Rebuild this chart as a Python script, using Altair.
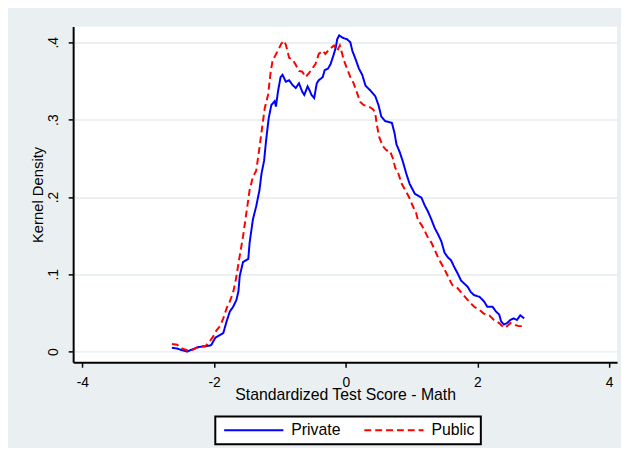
import altair as alt
import pandas as pd

# Private (solid blue) kernel density: x values and densities
private_x = [-2.64, -2.56, -2.49, -2.41, -2.33, -2.23, -2.13, -2.06, -2.04, -1.98, -1.92, -1.86,
             -1.81, -1.76, -1.71, -1.66, -1.63, -1.61, -1.56, -1.48, -1.46, -1.41, -1.36, -1.31,
             -1.28, -1.24, -1.21, -1.17, -1.13, -1.08, -1.06, -1.03, -0.99, -0.96, -0.91, -0.86,
             -0.81, -0.76, -0.71, -0.66, -0.63, -0.58, -0.55, -0.52, -0.48, -0.44, -0.41, -0.35,
             -0.32, -0.27, -0.23, -0.18, -0.15, -0.13, -0.10, -0.05, 0.02, 0.07, 0.10, 0.15,
             0.20, 0.25, 0.30, 0.37, 0.45, 0.50, 0.54, 0.60, 0.70, 0.74, 0.77, 0.82,
             0.87, 0.92, 0.97, 1.05, 1.15, 1.20, 1.25, 1.30, 1.35, 1.40, 1.45, 1.50,
             1.55, 1.60, 1.65, 1.70, 1.75, 1.80, 1.85, 1.90, 1.95, 2.03, 2.10, 2.15,
             2.23, 2.28, 2.33, 2.36, 2.40, 2.45, 2.50, 2.55, 2.60, 2.65, 2.71]
private_y = [0.005, 0.004, 0.002, 0.000, 0.003, 0.006, 0.007, 0.008, 0.009, 0.018, 0.021, 0.024,
             0.039, 0.052, 0.058, 0.067, 0.078, 0.098, 0.116, 0.120, 0.141, 0.171, 0.188, 0.209,
             0.230, 0.247, 0.273, 0.302, 0.319, 0.324, 0.317, 0.336, 0.355, 0.358, 0.349, 0.351,
             0.345, 0.341, 0.347, 0.336, 0.332, 0.343, 0.338, 0.332, 0.328, 0.347, 0.351, 0.355,
             0.364, 0.366, 0.372, 0.385, 0.394, 0.404, 0.409, 0.406, 0.404, 0.400, 0.389, 0.378,
             0.366, 0.358, 0.344, 0.338, 0.330, 0.318, 0.304, 0.298, 0.296, 0.283, 0.268, 0.258,
             0.245, 0.230, 0.217, 0.204, 0.199, 0.189, 0.181, 0.171, 0.160, 0.152, 0.143, 0.128,
             0.122, 0.118, 0.109, 0.101, 0.092, 0.088, 0.084, 0.077, 0.073, 0.071, 0.065, 0.058,
             0.058, 0.052, 0.048, 0.039, 0.035, 0.037, 0.041, 0.043, 0.041, 0.047, 0.043]

# Public (dashed red) kernel density
public_x = [-2.64, -2.56, -2.49, -2.38, -2.31, -2.23, -2.13, -2.06, -2.01, -1.96, -1.91, -1.86,
            -1.81, -1.76, -1.71, -1.68, -1.66, -1.61, -1.56, -1.51, -1.46, -1.41, -1.36, -1.31,
            -1.27, -1.23, -1.18, -1.14, -1.11, -1.07, -1.02, -0.98, -0.94, -0.91, -0.86, -0.81,
            -0.76, -0.71, -0.66, -0.61, -0.56, -0.51, -0.46, -0.41, -0.35, -0.31, -0.25, -0.18,
            -0.13, -0.09, -0.06, -0.03, 0.02, 0.07, 0.12, 0.17, 0.22, 0.27, 0.37, 0.42,
            0.45, 0.47, 0.51, 0.56, 0.62, 0.67, 0.72, 0.75, 0.80, 0.85, 0.89, 0.96,
            1.02, 1.07, 1.10, 1.15, 1.20, 1.25, 1.30, 1.35, 1.40, 1.47, 1.52, 1.57,
            1.62, 1.70, 1.77, 1.83, 1.87, 1.95, 2.03, 2.10, 2.18, 2.25, 2.33, 2.40,
            2.45, 2.50, 2.55, 2.63, 2.70]
public_y = [0.010, 0.009, 0.004, 0.001, 0.003, 0.007, 0.007, 0.014, 0.020, 0.028, 0.033, 0.043,
            0.056, 0.065, 0.077, 0.088, 0.098, 0.124, 0.149, 0.179, 0.209, 0.226, 0.234, 0.264,
            0.290, 0.315, 0.332, 0.362, 0.377, 0.383, 0.391, 0.398, 0.402, 0.397, 0.380, 0.378,
            0.371, 0.363, 0.362, 0.355, 0.360, 0.366, 0.372, 0.385, 0.389, 0.385, 0.391, 0.396,
            0.389, 0.396, 0.387, 0.377, 0.366, 0.355, 0.347, 0.335, 0.323, 0.319, 0.316, 0.313,
            0.307, 0.294, 0.277, 0.266, 0.260, 0.260, 0.249, 0.238, 0.230, 0.217, 0.211, 0.200,
            0.188, 0.179, 0.169, 0.164, 0.156, 0.147, 0.141, 0.132, 0.122, 0.111, 0.103, 0.094,
            0.086, 0.082, 0.075, 0.069, 0.065, 0.058, 0.054, 0.049, 0.047, 0.041, 0.037, 0.031,
            0.033, 0.037, 0.035, 0.033, 0.033]

series_names = ["Private", "Public"]
series_colors = ["#0000FF", "#FF0000"]
x_ticks = [-4, -2, 0, 2, 4]
y_ticks = [0, 0.1, 0.2, 0.3, 0.4]

df = pd.concat([
    pd.DataFrame({"x": private_x, "y": private_y, "series": "Private", "order": range(len(private_x))}),
    pd.DataFrame({"x": public_x, "y": public_y, "series": "Public", "order": range(len(public_x))}),
])

FONT = "Liberation Sans"

legend_opts = dict(
    title=None, orient="none", legendX=144, legendY=395, direction="horizontal",
    symbolType="M-6,0H6", symbolSize=100, symbolOffset=25, symbolStrokeWidth=2,
    labelFontSize=16, labelFont=FONT, labelColor="black", labelOffset=30,
    columnPadding=20, padding=6, strokeColor="black", fillColor="white",
)

chart = alt.Chart(df).mark_line(strokeWidth=2).encode(
    x=alt.X("x:Q",
            scale=alt.Scale(domain=[-4.14, 4.12], nice=False, zero=False),
            axis=alt.Axis(values=x_ticks, title="Standardized Test Score - Math",
                          labelExpr="toString(datum.value)", grid=False,
                          titleBaseline="middle", titleY=33, titleFontSize=16,
                          labelPadding=9)),
    y=alt.Y("y:Q",
            scale=alt.Scale(domain=[-0.0137, 0.4203], nice=False, zero=False),
            axis=alt.Axis(values=y_ticks, title="Kernel Density",
                          labelExpr="datum.value == 0 ? '0' : '.' + toString(round(datum.value * 10))",
                          labelAngle=270, labelAlign="center", labelBaseline="bottom",
                          labelPadding=8, titleAngle=270, titleBaseline="middle", titleX=-36,
                          titleFontSize=15,
                          grid=True, gridColor="#E4ECEF", gridWidth=1.5)),
    color=alt.Color("series:N", scale=alt.Scale(domain=series_names, range=series_colors),
                    legend=alt.Legend(**legend_opts)),
    strokeDash=alt.StrokeDash("series:N",
                              scale=alt.Scale(domain=series_names, range=[[1, 0], [7, 4]]),
                              legend=alt.Legend(**legend_opts)),
    detail="series:N",
    order="order:Q",
).properties(
    width=551, height=340,
    autosize=alt.AutoSizeParams(type="none"),
    padding={"left": 66, "top": 16, "right": 4, "bottom": 84},
    background="#EAF0F2",
).configure_view(
    fill="white", stroke=None,
).configure_axis(
    domainColor="black", domainWidth=2, tickColor="black", tickWidth=1.5, tickSize=5,
    labelFont=FONT, labelFontSize=14, labelColor="black",
    titleFont=FONT, titleFontWeight="normal", titleColor="black",
).configure_legend(
    strokeWidth=2,
)

chart.save("out.html", embed_options={"renderer": "svg", "actions": False})
